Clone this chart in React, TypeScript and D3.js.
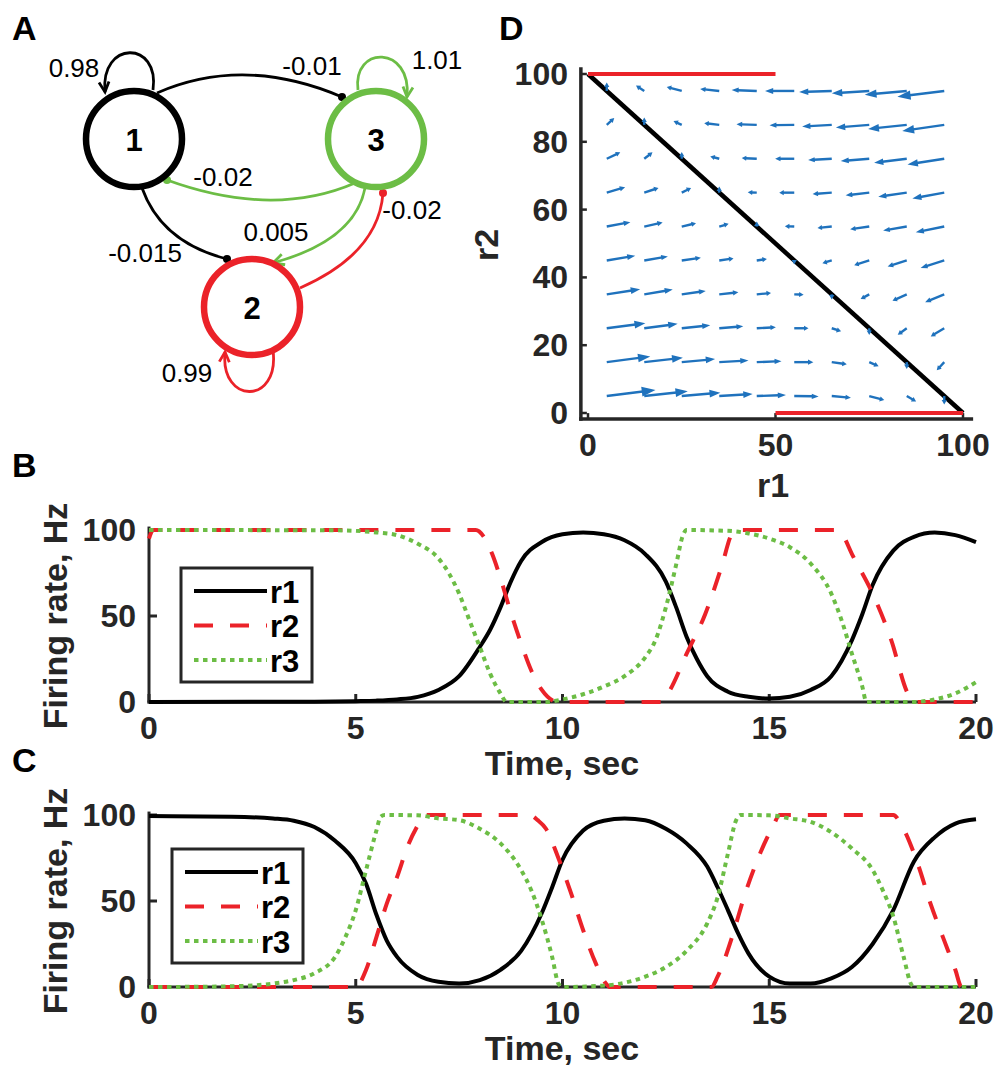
import React from 'react';
import * as d3 from 'd3';

const FONT = '"Liberation Sans", Arial, Helvetica, sans-serif';
const AX = '#262626';
const RED = '#eb2229';
const GREEN = '#6cbd45';
const BLUE = '#1f72bd';

// ---------- Panel A (network diagram) ----------
const nodeLabels = ['1', '2', '3'];
const selfWeights = ['0.98', '0.99', '1.01'];
const crossWeights = ['-0.01', '-0.02', '-0.015', '0.005', '-0.02'];

// ---------- Panels B / C (time series) ----------
const timeTicks = [0, 5, 10, 15, 20];
const rateTicks = [0, 50, 100];
const legendNames = ['r1', 'r2', 'r3'];

const r1B: [number, number][] = [[0,0],[4,0.2],[5,0.5],[5.5,0.8],[6,1.5],[6.5,3],[7,7],[7.5,15],[8,32],[8.25,42],[8.5,55],[8.75,70],[9,82],[9.5,93],[10,97.5],[10.5,98.5],[11,97.5],[11.5,94],[12,86],[12.5,70],[12.75,55],[13,38],[13.25,25],[13.5,15],[14,6],[14.5,3],[15,2],[15.5,3],[16,7],[16.5,15],[17,36],[17.25,51],[17.5,68],[18,88],[18.5,96],[19,98.5],[19.5,97],[20,93]];
const r2B: [number, number][] = [[0,95],[0.1,100],[7.9,100],[8.1,96],[8.3,86],[8.5,72],[8.75,52],[9,34],[9.25,18],[9.5,7],[9.75,1],[9.85,0],[12.4,0],[12.6,7],[13,28],[13.45,51],[13.85,79],[14.1,98],[14.2,100],[16.6,100],[16.75,98],[17,86],[17.5,63],[17.95,36],[18.35,5],[18.5,0],[20,0]];
const r3B: [number, number][] = [[0,100],[4.5,99.8],[5,99.5],[5.5,98.6],[6,97],[6.5,92],[7,83.5],[7.25,75],[7.5,63],[7.75,47.5],[8,32],[8.25,16.5],[8.5,5],[8.65,0],[9.6,0],[10,1.5],[10.5,4.5],[11,9],[11.5,15],[12,26],[12.25,36],[12.5,55],[12.75,80],[12.9,96],[13,100],[14,99.5],[14.5,98],[15,95],[15.5,90],[16,80.5],[16.5,63],[16.75,47.5],[17,28],[17.25,9],[17.35,0],[18.5,0],[19,1.5],[19.5,5],[20,11.5]];

const r1C: [number, number][] = [[0,99.4],[2,99],[3,98],[3.5,96.7],[4,93],[4.5,85],[5,72],[5.25,60],[5.5,42],[5.75,27],[6,17.5],[6.5,7],[7,3],[7.5,2],[8,4],[8.5,10],[9,21],[9.5,43],[9.75,58],[10,74],[10.5,91],[11,96.7],[11.5,98],[12,97],[12.5,92],[13,83.5],[13.5,70],[13.75,58],[14,44.7],[14.25,31],[14.5,19.4],[15,6],[15.5,2],[16,2],[16.5,5],[17,11.6],[17.5,25],[18,44.7],[18.5,73],[19,87],[19.5,95],[20,97.5]];
const r2C: [number, number][] = [[0,0],[5,0],[5.25,10],[5.5,29],[5.75,48.5],[6,64],[6.25,81.5],[6.5,94],[6.65,100],[9.2,100],[9.4,97],[9.6,92],[9.9,75],[10.2,55],[10.5,33],[10.8,14],[11.05,2],[11.15,0],[13.6,0],[13.75,6],[14.1,29],[14.4,53],[14.75,76],[15.1,94],[15.25,100],[18,100],[18.2,94],[18.6,71],[18.9,48.5],[19.2,29],[19.5,10],[19.65,0],[20,0]];
const r3C: [number, number][] = [[0,0],[1.5,0.2],[2,0.4],[3,2],[3.5,4],[4,8],[4.5,17.5],[4.75,29],[5,44.7],[5.25,68],[5.5,91],[5.6,99],[5.7,100],[6.5,99.8],[7,98],[7.5,97],[8,92],[8.5,83.5],[9,68],[9.25,56],[9.5,39],[9.75,17.5],[9.9,2],[10,0],[11,0.8],[11.5,2.5],[12,6],[12.5,11.6],[13,21],[13.5,37],[13.75,52],[14,77.5],[14.2,97],[14.3,100],[15,99.8],[15.5,98],[16,96],[16.5,90],[17,80.5],[17.5,68],[17.75,56],[18,41],[18.25,17.5],[18.45,1],[18.55,0],[20,0]];

// ---------- Panel D (phase plane) ----------
const r1Ticks = [0, 50, 100];
const r2Ticks = [0, 20, 40, 60, 80, 100];
const gridR1 = [5, 15, 25, 35, 45, 55, 65, 75, 85, 95];
const gridR2 = [95, 85, 75, 65, 55, 45, 35, 25, 15, 5];
const quiverU = [
  [0, -2.2, -4.0, -5.1, -6.7, -7.8, -8.7, -10, -11.2, -12.5],
  [2.0, 0, -2.2, -4.0, -5.4, -6.6, -7.9, -8.9, -10.3, -11.2],
  [3.6, 2.2, 0, -2.4, -4.0, -5.1, -6.3, -7.6, -8.7, -9.8],
  [4.9, 3.8, 2.5, 0, -2.4, -4.0, -5.1, -6.3, -7.6, -8.5],
  [6.3, 4.9, 3.8, 2.5, 0, -2.5, -3.8, -5.1, -6.3, -7.6],
  [7.6, 6.3, 5.1, 3.8, 2.7, 0, -2.5, -4.0, -5.1, -6.3],
  [8.9, 7.6, 6.4, 5.1, 3.8, 2.5, 0, -2.3, -3.8, -5.1],
  [10.3, 8.9, 7.6, 6.4, 5.1, 3.8, 2.5, 0, -2.4, -3.6],
  [11.6, 10.3, 8.9, 7.8, 6.6, 5.1, 4.0, 2.5, 0, -2.0],
  [13.0, 11.6, 10.3, 8.9, 7.8, 6.5, 5.1, 4.0, 2.5, 0],
];
const quiverV = [
  [2.5, 1.6, 1.2, 0.6, 0.3, 0, -0.3, -0.7, -1.1, -1.7],
  [2.0, 2.2, 1.1, 0.5, 0.2, -0.1, -0.5, -0.8, -1.2, -1.8],
  [1.9, 1.9, 2.0, 0.7, 0.2, 0, -0.4, -0.7, -1.2, -1.7],
  [1.6, 1.4, 1.4, 1.8, 0.1, 0, -0.4, -0.8, -1.2, -1.7],
  [1.3, 1.2, 1.0, 0.8, 1.5, 0.1, -0.4, -0.8, -1.2, -1.7],
  [1.4, 1.2, 0.8, 0.6, 0.4, -1.2, -0.8, -1.4, -1.8, -2.2],
  [1.5, 1.4, 1.0, 0.6, 0.4, -0.1, -1.5, -1.4, -1.9, -2.3],
  [1.5, 1.3, 0.9, 0.6, 0.3, 0, -0.9, -2.0, -1.9, -2.4],
  [1.7, 1.3, 0.9, 0.5, 0.3, 0, -0.6, -1.2, -2.0, -2.4],
  [1.8, 1.4, 1.0, 0.6, 0.3, -0.1, -0.5, -1.2, -1.6, -2.5],
];
const boundaryTop: [number, number][] = [[0, 100], [50, 100]];
const boundaryBottom: [number, number][] = [[50, 0], [100, 0]];
const diagonal: [number, number][] = [[0, 100], [100, 0]];

// ---------- helpers ----------
function chevron(tx: number, ty: number, fx: number, fy: number, len = 10, hw = 5) {
  const dx = tx - fx, dy = ty - fy;
  const L = Math.hypot(dx, dy) || 1;
  const ux = dx / L, uy = dy / L;
  const bx = tx - ux * len, by = ty - uy * len;
  return `M${bx - uy * hw},${by + ux * hw} L${tx},${ty} L${bx + uy * hw},${by - ux * hw}`;
}

function PanelA() {
  const n1 = { x: 134, y: 139 }, n2 = { x: 252, y: 307 }, n3 = { x: 376, y: 139 };
  const nodes = [
    { ...n1, c: '#000', label: nodeLabels[0] },
    { ...n2, c: RED, label: nodeLabels[1] },
    { ...n3, c: GREEN, label: nodeLabels[2] },
  ];
  const sw = 2.8;
  const fs = 26;
  return (
    <g>
      {/* self loops */}
      <path d="M153,90 C160,40 100,40 105,92" fill="none" stroke="#000" strokeWidth={sw} />
      <path d={chevron(105, 92, 102, 62, 10, 5)} fill="none" stroke="#000" strokeWidth={sw} />
      <path d="M358,90 C352,45 412,45 407,97" fill="none" stroke={GREEN} strokeWidth={sw} />
      <path d={chevron(407, 97, 410, 66, 10, 5)} fill="none" stroke={GREEN} strokeWidth={sw} />
      <path d="M273,350 C280,405 220,405 225,352" fill="none" stroke={RED} strokeWidth={sw} />
      <path d={chevron(225, 352, 223, 382, 10, 5)} fill="none" stroke={RED} strokeWidth={sw} />
      {/* 1 -> 3 */}
      <path d="M157,93 Q244,55 342,97" fill="none" stroke="#000" strokeWidth={sw} />
      <circle cx={342} cy={97} r={4} fill="#000" />
      {/* 3 -> 1 */}
      <path d="M355,183 Q273,218.5 167,180" fill="none" stroke={GREEN} strokeWidth={sw} />
      <circle cx={167} cy={180} r={4} fill={GREEN} />
      {/* 1 -> 2 */}
      <path d="M142,188 Q161.5,242.5 227,259" fill="none" stroke="#000" strokeWidth={sw} />
      <circle cx={227} cy={259} r={4} fill="#000" />
      {/* 3 -> 2 */}
      <path d="M365,188 Q355,240.5 273,263" fill="none" stroke={GREEN} strokeWidth={sw} />
      <path d={chevron(273, 263, 300, 254, 11, 5.5)} fill="none" stroke={GREEN} strokeWidth={sw} />
      {/* 2 -> 3 */}
      <path d="M300,288 Q378.5,253.5 383,193" fill="none" stroke={RED} strokeWidth={sw} />
      <circle cx={383} cy={193} r={4} fill={RED} />
      {nodes.map((n) => (
        <g key={n.label}>
          <circle cx={n.x} cy={n.y} r={48} fill="none" stroke={n.c} strokeWidth={6.5} />
          <text x={n.x} y={n.y + 1} textAnchor="middle" dominantBaseline="central"
            fontFamily={FONT} fontWeight="bold" fontSize={31} fill="#000">{n.label}</text>
        </g>
      ))}
      <g fontFamily={FONT} fontSize={fs} fill="#000" textAnchor="middle" dominantBaseline="central">
        <text x={74} y={68}>{selfWeights[0]}</text>
        <text x={187} y={373}>{selfWeights[1]}</text>
        <text x={437} y={60}>{selfWeights[2]}</text>
        <text x={312} y={66}>{crossWeights[0]}</text>
        <text x={223} y={177}>{crossWeights[1]}</text>
        <text x={145} y={253}>{crossWeights[2]}</text>
        <text x={276} y={232}>{crossWeights[3]}</text>
        <text x={412} y={210}>{crossWeights[4]}</text>
      </g>
    </g>
  );
}

type Series = [number, number][];

function TimePanel({ y0, yTop, r1, r2, r3, leg }: { y0: number; yTop: number; r1: Series; r2: Series; r3: Series; leg: { x: number; y: number } }) {
  const x = d3.scaleLinear().domain([0, 20]).range([149, 976]);
  const y = d3.scaleLinear().domain([0, 100]).range([y0, yTop]);
  const yMax = y(102);
  const line = d3.line<[number, number]>().x((d) => x(d[0])).y((d) => y(d[1])).curve(d3.curveMonotoneX);
  const lw = 4;
  const rows = [
    { name: legendNames[0], stroke: '#000', dash: undefined as string | undefined },
    { name: legendNames[1], stroke: RED, dash: '19,17' },
    { name: legendNames[2], stroke: GREEN, dash: '4.5,4.5' },
  ];
  return (
    <g>
      <g stroke={AX} strokeWidth={3} fill="none">
        <line x1={x(0)} x2={x(0)} y1={yMax} y2={y0 + 1.5} />
        <line x1={x(0) - 1.5} x2={x(20)} y1={y0} y2={y0} />
        {timeTicks.map((t) => <line key={t} x1={x(t)} x2={x(t)} y1={y0} y2={y0 - 8} />)}
        {rateTicks.map((t) => <line key={t} x1={x(0)} x2={x(0) + 8} y1={y(t)} y2={y(t)} />)}
      </g>
      <g fontFamily={FONT} fontWeight="bold" fontSize={32} fill={AX}>
        {timeTicks.map((t) => (
          <text key={t} x={x(t)} y={y0 + 26} textAnchor="middle" dominantBaseline="central">{t}</text>
        ))}
        {rateTicks.map((t) => (
          <text key={t} x={136} y={y(t)} textAnchor="end" dominantBaseline="central">{t}</text>
        ))}
        <text x={562} y={y0 + 61} textAnchor="middle" dominantBaseline="central" fontSize={34}>Time, sec</text>
        <text transform={`translate(55,${(y0 + y(100)) / 2}) rotate(-90)`} textAnchor="middle" dominantBaseline="central" fontSize={34}>Firing rate, Hz</text>
      </g>
      <path d={line(r1) || ''} fill="none" stroke="#000" strokeWidth={lw} />
      <path d={line(r2) || ''} fill="none" stroke={RED} strokeWidth={lw} strokeDasharray="19,17" />
      <path d={line(r3) || ''} fill="none" stroke={GREEN} strokeWidth={lw} strokeDasharray="4.5,4.5" />
      <rect x={leg.x} y={leg.y} width={131} height={114} fill="#fff" stroke={AX} strokeWidth={3} />
      {rows.map((r, i) => {
        const yy = leg.y + 23 + i * 34.5;
        return (
          <g key={r.name}>
            <line x1={leg.x + 13} x2={leg.x + 86} y1={yy} y2={yy} stroke={r.stroke} strokeWidth={lw} strokeDasharray={r.dash} />
            <text x={leg.x + 89} y={yy + 1} dominantBaseline="central" fontFamily={FONT} fontWeight="bold" fontSize={31} fill="#000">{r.name}</text>
          </g>
        );
      })}
    </g>
  );
}

function PanelD() {
  const x = d3.scaleLinear().domain([0, 100]).range([588, 963]);
  const y = d3.scaleLinear().domain([0, 100]).range([413, 74]);
  const axX = x(-1.9), axY = y(-1.8);
  const line = d3.line<[number, number]>().x((d) => x(d[0])).y((d) => y(d[1]));
  const arrows: { x1: number; y1: number; x2: number; y2: number; key: string }[] = [];
  gridR2.forEach((r2, i) => {
    gridR1.forEach((r1, j) => {
      arrows.push({ key: `${i}-${j}`, x1: x(r1), y1: y(r2), x2: x(r1 + quiverU[i][j]), y2: y(r2 + quiverV[i][j]) });
    });
  });
  return (
    <g>
      <g stroke={AX} strokeWidth={3.5} fill="none">
        <line x1={axX} x2={axX} y1={y(102)} y2={axY + 1.75} />
        <line x1={axX - 1.75} x2={x(102.7)} y1={axY} y2={axY} />
        {r1Ticks.map((t) => <line key={t} x1={x(t)} x2={x(t)} y1={axY} y2={axY - 6} strokeWidth={2.5} />)}
        {r2Ticks.map((t) => <line key={t} x1={axX} x2={axX + 6} y1={y(t)} y2={y(t)} strokeWidth={2.5} />)}
      </g>
      <g fontFamily={FONT} fontWeight="bold" fontSize={32} fill={AX}>
        {r1Ticks.map((t) => (
          <text key={t} x={x(t)} y={445} textAnchor="middle" dominantBaseline="central">{t}</text>
        ))}
        {r2Ticks.map((t) => (
          <text key={t} x={568} y={y(t)} textAnchor="end" dominantBaseline="central">{t}</text>
        ))}
        <text x={773} y={485} textAnchor="middle" dominantBaseline="central" fontSize={34}>r1</text>
        <text transform="translate(486,245) rotate(-90)" textAnchor="middle" dominantBaseline="central" fontSize={34}>r2</text>
      </g>
      <path d={line(diagonal) || ''} stroke="#000" strokeWidth={4.5} fill="none" />
      {arrows.map((a) => {
        const dx = a.x2 - a.x1, dy = a.y2 - a.y1;
        const L = Math.hypot(dx, dy);
        if (L < 0.5) return null;
        const ux = dx / L, uy = dy / L;
        const hl = Math.max(4.5, 0.28 * L), hw = Math.max(2.6, 0.1 * L);
        const bx = a.x2 - ux * hl, by = a.y2 - uy * hl;
        return (
          <g key={a.key}>
            <line x1={a.x1} y1={a.y1} x2={bx + ux * 1} y2={by + uy * 1} stroke={BLUE} strokeWidth={2.4} />
            <path d={`M${a.x2},${a.y2} L${bx - uy * hw},${by + ux * hw} L${bx + uy * hw},${by - ux * hw} Z`} fill={BLUE} />
          </g>
        );
      })}
      <path d={line(boundaryTop) || ''} stroke={RED} strokeWidth={4} fill="none" />
      <path d={line(boundaryBottom) || ''} stroke={RED} strokeWidth={4} fill="none" />
    </g>
  );
}

export default function App() {
  return (
    <svg width={1000} height={1073} viewBox="0 0 1000 1073"
      style={{ position: 'absolute', left: 0, top: 0, background: '#fff' }}>
      <rect width={1000} height={1073} fill="#fff" />
      <PanelA />
      <PanelD />
      <TimePanel y0={702} yTop={530} r1={r1B} r2={r2B} r3={r3B} leg={{ x: 181, y: 568 }} />
      <TimePanel y0={987} yTop={815} r1={r1C} r2={r2C} r3={r3C} leg={{ x: 172, y: 849 }} />
      <g fontFamily={FONT} fontWeight="bold" fontSize={34} fill="#000">
        <text x={12} y={40}>A</text>
        <text x={499} y={40}>D</text>
        <text x={12} y={477}>B</text>
        <text x={12} y={772}>C</text>
      </g>
    </svg>
  );
}
